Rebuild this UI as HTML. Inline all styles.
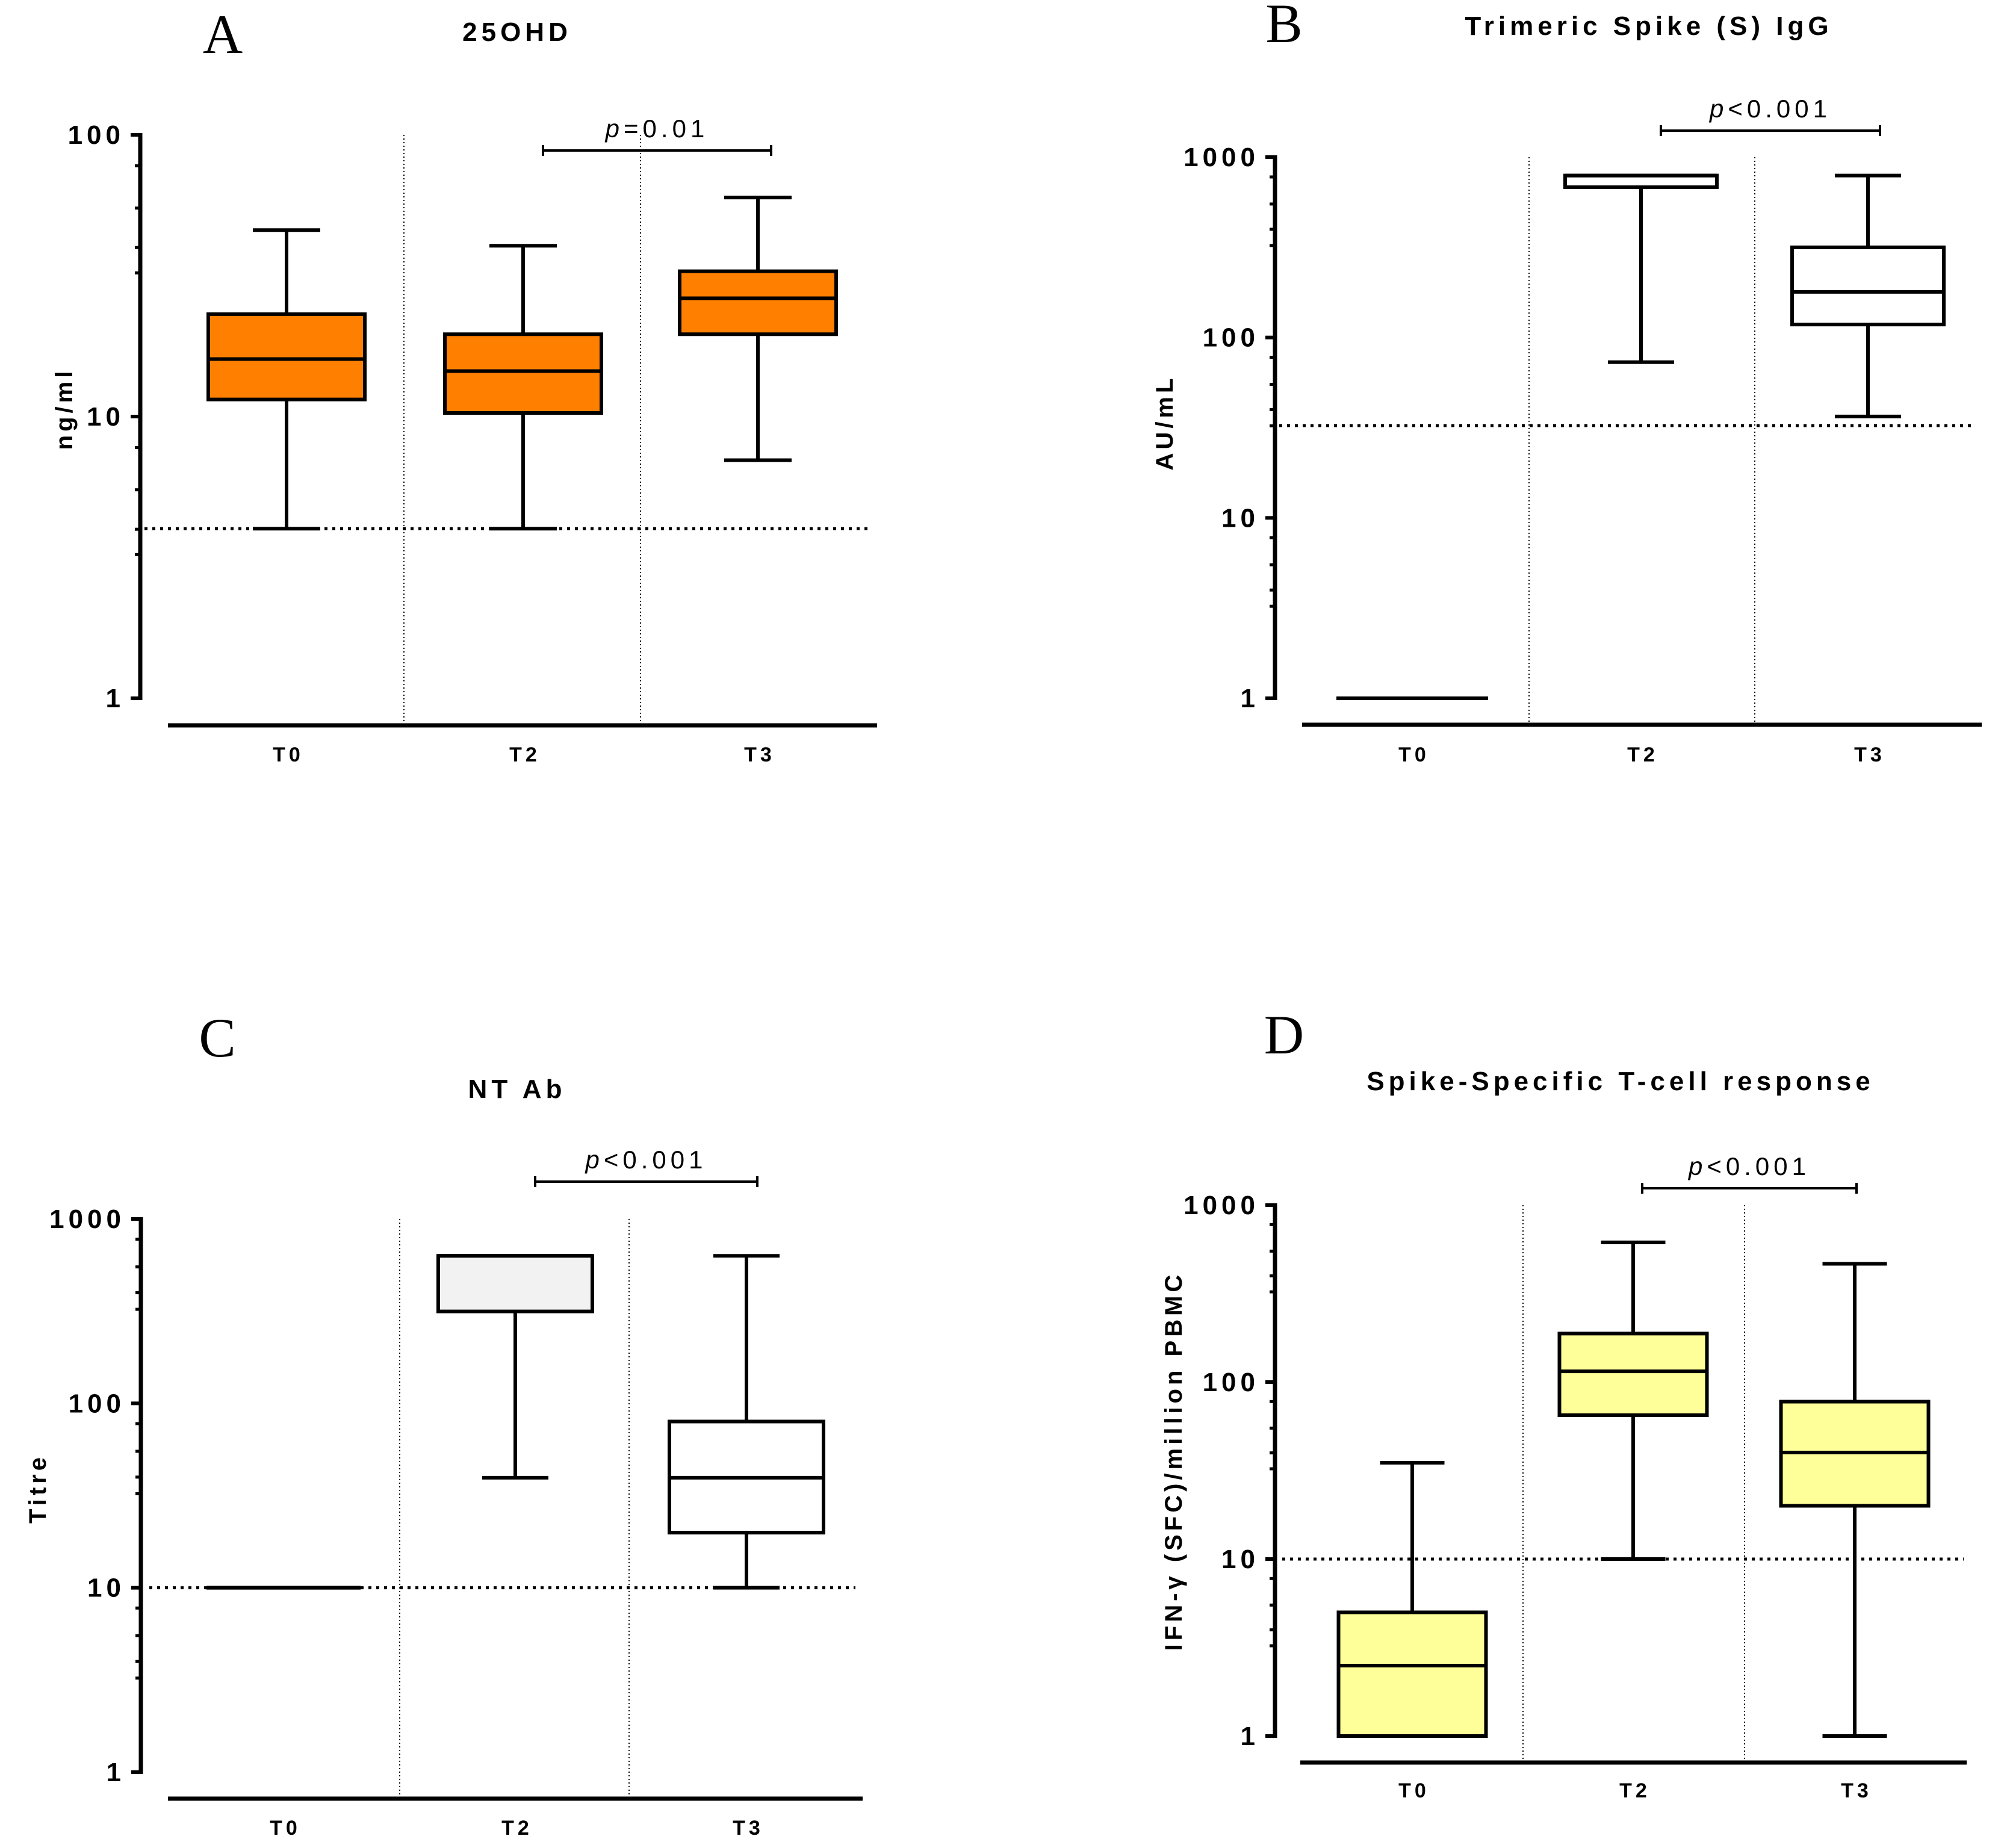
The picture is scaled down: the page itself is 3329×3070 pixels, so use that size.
<!DOCTYPE html>
<html><head><meta charset="utf-8"><style>
html,body{margin:0;padding:0;background:#fff}
svg{display:block}
text{font-family:"Liberation Sans",Arial,sans-serif}
</style></head>
<body>
<svg id="fig" width="3329" height="3070" viewBox="0 0 3329 3070" xmlns="http://www.w3.org/2000/svg"></svg>
<script>
// ---- data ----
const categories = ["T0","T2","T3"];
// Panel A: 25OHD (ng/ml)
const aMax = [45.9, 40.4, 59.9];
const aQ3  = [23.1, 19.6, 32.8];
const aMed = [16.0, 14.5, 26.3];
const aQ1  = [11.5, 10.3, 19.6];
const aMin = [4.0, 4.0, 7.0];
const aRef = 4.0;
const aTicks = [1, 10, 100];
// Panel B: Trimeric Spike IgG (AU/mL)
const bMax = [1, 790, 790];
const bQ3  = [1, 790, 316];
const bMed = [1, 790, 179];
const bQ1  = [1, 681, 118];
const bMin = [1, 73, 36.5];
const bRef = 32.5;
const bTicks = [1, 10, 100, 1000];
// Panel C: NT Ab (Titre)
const cMax = [10, 631, 631];
const cQ3  = [10, 631, 79.7];
const cMed = [10, 631, 39.5];
const cQ1  = [10, 315, 19.9];
const cMin = [10, 39.5, 10];
const cRef = 10;
const cTicks = [1, 10, 100, 1000];
// Panel D: Spike-specific T-cell response
const dMax = [35, 616, 466];
const dQ3  = [5.0, 188, 77.5];
const dMed = [2.5, 115, 40];
const dQ1  = [1, 65, 20];
const dMin = [1, 10, 1];
const dRef = 10;
const dTicks = [1, 10, 100, 1000];

const NS = "http://www.w3.org/2000/svg";
const svg = document.getElementById("fig");
function mk(tag, attrs, parent, txt){
  const e = document.createElementNS(NS, tag);
  for (const k in attrs) e.setAttribute(k, attrs[k]);
  if (txt !== undefined) e.textContent = txt;
  (parent || svg).appendChild(e);
  return e;
}

const panels = [
 {id:"a", letter:"A", title:"25OHD", ylab:"ng/ml", max:aMax,q3:aQ3,med:aMed,q1:aQ1,min:aMin,ref:aRef,ticks:aTicks,
  ax:233, yTop:224, yBot:1160, lo:1, hi:100, xl0:279, xl1:1457, xlY:1205, centers:[476,869,1259], seps:[671,1064],
  boxW:260, capW:112, refX0:240, refX1:1448, br:[902,1281,250], brText:"=0.01", titleX:859, titleY:68, letterX:370, letterY:88,
  ylabX:120, ylabY:679, labY:1265, fills:["#ff8000","#ff8000","#ff8000"]},
 {id:"b", letter:"B", title:"Trimeric Spike (S) IgG", ylab:"AU/mL", max:bMax,q3:bQ3,med:bMed,q1:bQ1,min:bMin,ref:bRef,ticks:bTicks,
  ax:2118, yTop:261, yBot:1160, lo:1, hi:1000, xl0:2163, xl1:3292, xlY:1204, centers:[2346,2726,3103], seps:[2540,2915],
  boxW:252, capW:110, refX0:2125, refX1:3275, br:[2759,3123,217], brText:"<0.001", titleX:2739, titleY:58, letterX:2133, letterY:70,
  ylabX:1948, ylabY:702, labY:1265, fills:["#fff","#fff","#fff"]},
 {id:"c", letter:"C", title:"NT Ab", ylab:"Titre", max:cMax,q3:cQ3,med:cMed,q1:cQ1,min:cMin,ref:cRef,ticks:cTicks,
  ax:234, yTop:2025, yBot:2944, lo:1, hi:1000, xl0:279, xl1:1433, xlY:2988, centers:[471,856,1240], seps:[664,1045],
  boxW:256, capW:110, refX0:248, refX1:1421, br:[889,1258,1963], brText:"<0.001", titleX:859, titleY:1824, letterX:361, letterY:1755,
  ylabX:76, ylabY:2473, labY:3048, fills:["#fff","#f2f2f2","#fff"]},
 {id:"d", letter:"D", title:"Spike-Specific T-cell response", ylab:"IFN-\u03b3 (SFC)/million PBMC", max:dMax,q3:dQ3,med:dMed,q1:dQ1,min:dMin,ref:dRef,ticks:dTicks,
  ax:2118, yTop:2002, yBot:2884, lo:1, hi:1000, xl0:2160, xl1:3267, xlY:2928, centers:[2346,2713,3081], seps:[2530,2898],
  boxW:245, capW:107, refX0:2130, refX1:3262, br:[2728,3084,1974], brText:"<0.001", titleX:2692, titleY:1811, letterX:2133, letterY:1750,
  ylabX:1963, ylabY:2427, labY:2986, fills:["#ffff99","#ffff99","#ffff99"]}
];

const minorFracs = [0.11, 0.26, 0.40, 0.49];

panels.forEach(p => {
  const g = mk("g", {});
  
  
  const L0 = Math.log10(p.lo), L1 = Math.log10(p.hi);
  const y = v => p.yBot - (Math.log10(v) - L0) / (L1 - L0) * (p.yBot - p.yTop);

  const letter = mk("text", {x:p.letterX, y:p.letterY, "text-anchor":"middle", "font-size":92, style:'font-family:"Liberation Serif",serif'}, g, p.letter);
  
  
  const title = mk("text", {x:p.titleX, y:p.titleY, "text-anchor":"middle", "font-size":44, "font-weight":"bold", "letter-spacing":7}, g, p.title);
  
  

  p.seps.forEach(sx => {
    const s = mk("line", {x1:sx, x2:sx, y1:p.yTop, y2:p.xlY, stroke:"#000", "stroke-width":2, "stroke-dasharray":"2 4"}, g);
    
    
  });
  const rl = mk("line", {x1:p.refX0, x2:p.refX1, y1:y(p.ref), y2:y(p.ref), stroke:"#000", "stroke-width":5, "stroke-dasharray":"5 8"}, g);
  
  

  const ya = mk("line", {x1:p.ax, x2:p.ax, y1:p.yTop-3, y2:p.yBot+3, stroke:"#000", "stroke-width":7}, g);
  
  
  p.ticks.forEach((t, i) => {
    const tl = mk("line", {x1:p.ax-16, x2:p.ax, y1:y(t), y2:y(t), stroke:"#000", "stroke-width":6}, g);
    
    
    const tt = mk("text", {x:p.ax-26, y:y(t)+15, "text-anchor":"end", "font-size":44, "font-weight":"bold", "letter-spacing":7}, g, String(t));
    
    
    if (i > 0) {
      minorFracs.forEach(f => {
        const v = t * Math.pow(10, -f);
        const m = mk("line", {x1:p.ax-9, x2:p.ax, y1:y(v), y2:y(v), stroke:"#000", "stroke-width":5}, g);
        
        
      });
    }
  });
  const yl = mk("text", {x:p.ylabX, y:p.ylabY, "text-anchor":"middle", "font-size":40, "font-weight":"bold", "letter-spacing":6, transform:`rotate(-90 ${p.ylabX} ${p.ylabY})`}, g, p.ylab);
  
  

  const xa = mk("line", {x1:p.xl0, x2:p.xl1, y1:p.xlY, y2:p.xlY, stroke:"#000", "stroke-width":7}, g);
  
  

  categories.forEach((c, i) => {
    const cx = p.centers[i];
    const xt = mk("text", {x:cx+3, y:p.labY, "text-anchor":"middle", "font-size":34, "font-weight":"bold", "letter-spacing":6}, g, c);
    
    
    const bg = mk("g", {}, g);
    
    
    const sw = 6;
    mk("line", {x1:cx, x2:cx, y1:y(p.max[i]), y2:y(p.q3[i]), stroke:"#000", "stroke-width":sw}, bg);
    mk("line", {x1:cx, x2:cx, y1:y(p.q1[i]), y2:y(p.min[i]), stroke:"#000", "stroke-width":sw}, bg);
    if (p.max[i] !== p.q3[i]) mk("line", {x1:cx-p.capW/2, x2:cx+p.capW/2, y1:y(p.max[i]), y2:y(p.max[i]), stroke:"#000", "stroke-width":sw}, bg);
    if (p.min[i] !== p.q1[i]) mk("line", {x1:cx-p.capW/2, x2:cx+p.capW/2, y1:y(p.min[i]), y2:y(p.min[i]), stroke:"#000", "stroke-width":sw}, bg);
    const x0 = cx - p.boxW/2, x1 = cx + p.boxW/2, yt = y(p.q3[i]), yb = y(p.q1[i]);
    mk("path", {d:`M${x0},${yt}L${x1},${yt}L${x1},${yb}L${x0},${yb}Z`, fill:p.fills[i], stroke:"#000", "stroke-width":sw}, bg);
    mk("line", {x1:x0, x2:x1, y1:y(p.med[i]), y2:y(p.med[i]), stroke:"#000", "stroke-width":sw}, bg);
  });

  const [bx0, bx1, by] = p.br;
  const bg2 = mk("g", {}, g);
  
  
  mk("line", {x1:bx0, x2:bx1, y1:by, y2:by, stroke:"#000", "stroke-width":4}, bg2);
  mk("line", {x1:bx0, x2:bx0, y1:by-9, y2:by+9, stroke:"#000", "stroke-width":4}, bg2);
  mk("line", {x1:bx1, x2:bx1, y1:by-9, y2:by+9, stroke:"#000", "stroke-width":4}, bg2);
  const pt = mk("text", {x:(bx0+bx1)/2, y:by-22, "text-anchor":"middle", "font-size":42, "letter-spacing":7}, bg2);
  
  
  mk("tspan", {"font-style":"italic"}, pt, "p");
  mk("tspan", {}, pt, p.brText);
});
</script>
</body></html>
